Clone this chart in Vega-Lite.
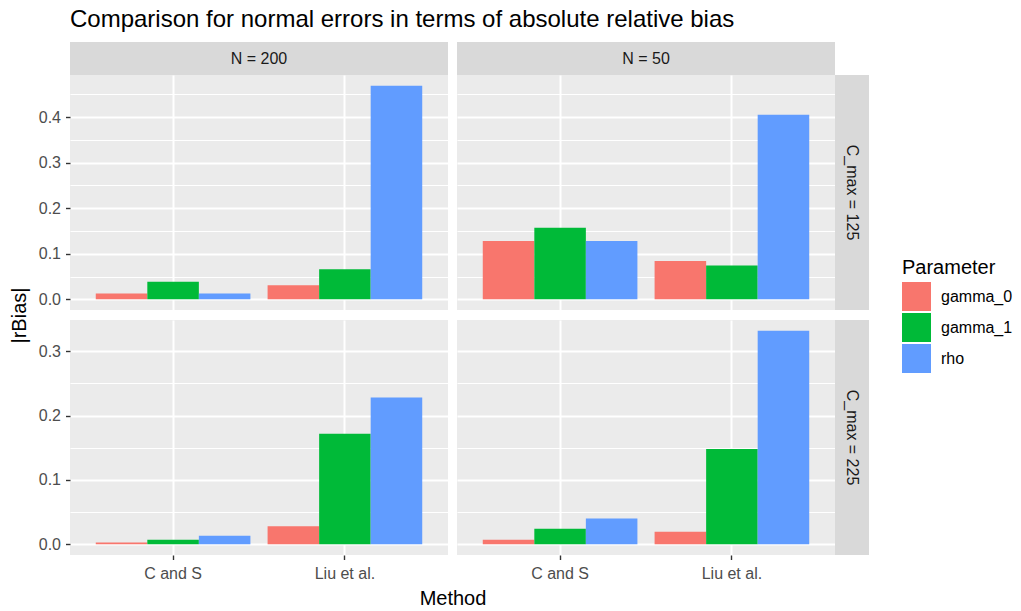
{
  "$schema": "https://vega.github.io/schema/vega-lite/v6.json",
  "padding": {"left": 8, "top": 8, "right": 5, "bottom": 2},
  "background": "white",
  "title": {"text": "Comparison for normal errors in terms of absolute relative bias", "anchor": "start", "frame": "group", "fontSize": 24, "fontWeight": "normal", "color": "#000000", "offset": 10},
  "datasets": {
    "d": [
      {"N": "N = 200", "Cmax": "C_max = 125", "Method": "C and S", "Parameter": "gamma_0", "rBias": 0.013},
      {"N": "N = 200", "Cmax": "C_max = 125", "Method": "C and S", "Parameter": "gamma_1", "rBias": 0.0385},
      {"N": "N = 200", "Cmax": "C_max = 125", "Method": "C and S", "Parameter": "rho", "rBias": 0.013},
      {"N": "N = 200", "Cmax": "C_max = 125", "Method": "Liu et al.", "Parameter": "gamma_0", "rBias": 0.031},
      {"N": "N = 200", "Cmax": "C_max = 125", "Method": "Liu et al.", "Parameter": "gamma_1", "rBias": 0.066},
      {"N": "N = 200", "Cmax": "C_max = 125", "Method": "Liu et al.", "Parameter": "rho", "rBias": 0.469},
      {"N": "N = 50", "Cmax": "C_max = 125", "Method": "C and S", "Parameter": "gamma_0", "rBias": 0.128},
      {"N": "N = 50", "Cmax": "C_max = 125", "Method": "C and S", "Parameter": "gamma_1", "rBias": 0.157},
      {"N": "N = 50", "Cmax": "C_max = 125", "Method": "C and S", "Parameter": "rho", "rBias": 0.128},
      {"N": "N = 50", "Cmax": "C_max = 125", "Method": "Liu et al.", "Parameter": "gamma_0", "rBias": 0.084},
      {"N": "N = 50", "Cmax": "C_max = 125", "Method": "Liu et al.", "Parameter": "gamma_1", "rBias": 0.074},
      {"N": "N = 50", "Cmax": "C_max = 125", "Method": "Liu et al.", "Parameter": "rho", "rBias": 0.405},
      {"N": "N = 200", "Cmax": "C_max = 225", "Method": "C and S", "Parameter": "gamma_0", "rBias": 0.003},
      {"N": "N = 200", "Cmax": "C_max = 225", "Method": "C and S", "Parameter": "gamma_1", "rBias": 0.007},
      {"N": "N = 200", "Cmax": "C_max = 225", "Method": "C and S", "Parameter": "rho", "rBias": 0.0135},
      {"N": "N = 200", "Cmax": "C_max = 225", "Method": "Liu et al.", "Parameter": "gamma_0", "rBias": 0.028},
      {"N": "N = 200", "Cmax": "C_max = 225", "Method": "Liu et al.", "Parameter": "gamma_1", "rBias": 0.172},
      {"N": "N = 200", "Cmax": "C_max = 225", "Method": "Liu et al.", "Parameter": "rho", "rBias": 0.228},
      {"N": "N = 50", "Cmax": "C_max = 225", "Method": "C and S", "Parameter": "gamma_0", "rBias": 0.007},
      {"N": "N = 50", "Cmax": "C_max = 225", "Method": "C and S", "Parameter": "gamma_1", "rBias": 0.024},
      {"N": "N = 50", "Cmax": "C_max = 225", "Method": "C and S", "Parameter": "rho", "rBias": 0.040},
      {"N": "N = 50", "Cmax": "C_max = 225", "Method": "Liu et al.", "Parameter": "gamma_0", "rBias": 0.0195},
      {"N": "N = 50", "Cmax": "C_max = 225", "Method": "Liu et al.", "Parameter": "gamma_1", "rBias": 0.148},
      {"N": "N = 50", "Cmax": "C_max = 225", "Method": "Liu et al.", "Parameter": "rho", "rBias": 0.332}
    ]
  },
  "bounds": "flush",
  "align": "each",
  "columns": 4,
  "spacing": {"row": 0, "column": 0},
  "concat": [
    {"width": 378, "height": 33, "view": {"fill": "#D9D9D9", "stroke": null},
     "data": {"values": [{"label": "N = 200"}]},
     "mark": {"type": "text", "fontSize": 16, "color": "#1A1A1A", "align": "center", "baseline": "middle"},
     "encoding": {"text": {"field": "label", "type": "nominal"}}},
    {"width": 9, "height": 33, "data": {"values": []}, "mark": "point", "encoding": {}},
    {"width": 378, "height": 33, "view": {"fill": "#D9D9D9", "stroke": null},
     "data": {"values": [{"label": "N = 50"}]},
     "mark": {"type": "text", "fontSize": 16, "color": "#1A1A1A", "align": "center", "baseline": "middle"},
     "encoding": {"text": {"field": "label", "type": "nominal"}}},
    {"width": 34, "height": 33, "data": {"values": []}, "mark": "point", "encoding": {}},

    {
      "width": 378, "height": 235,
      "view": {"fill": "#EBEBEB", "stroke": null},
      "data": {"name": "d"},
      "transform": [{"filter": "datum.N === 'N = 200' && datum.Cmax === 'C_max = 125'"}],
      "layer": [
        {"mark": {"type": "bar", "opacity": 0},
         "encoding": {"y": {"field": "rBias", "type": "quantitative", "stack": null,
           "scale": {"domain": [-0.02345, 0.49245], "nice": false},
           "axis": {"orient": "left", "values": [0.05, 0.15, 0.25, 0.35, 0.45], "grid": true, "gridWidth": 1, "labels": false, "ticks": false, "domain": false, "title": null, "zindex": 0}}}},
        {"mark": "bar",
         "encoding": {
           "x": {"field": "Method", "type": "nominal", "scale": {"paddingInner": 0.1, "paddingOuter": 0.15},
             "axis": {"title": null, "labels": false, "ticks": false, "domain": false, "grid": true, "gridWidth": 2, "bandPosition": 0.5, "zindex": 0}},
           "xOffset": {"field": "Parameter", "type": "nominal", "scale": {"paddingInner": 0, "paddingOuter": 0}},
           "y": {"field": "rBias", "type": "quantitative",
             "scale": {"domain": [-0.02345, 0.49245], "nice": false},
             "axis": {"orient": "left", "values": [0, 0.1, 0.2, 0.3, 0.4], "format": ".1f", "grid": true, "gridWidth": 2, "zindex": 0, "title": null}},
           "color": {"field": "Parameter", "type": "nominal",
             "scale": {"domain": ["gamma_0", "gamma_1", "rho"], "range": ["#F8766D", "#00BA38", "#619CFF"]},
             "legend": {"title": "Parameter"}}
         }}
      ],
      "resolve": {"axis": {"y": "independent"}}
    },
    {"width": 9, "height": 235, "data": {"values": []}, "mark": "point", "encoding": {}},
    {
      "width": 378, "height": 235,
      "view": {"fill": "#EBEBEB", "stroke": null},
      "data": {"name": "d"},
      "transform": [{"filter": "datum.N === 'N = 50' && datum.Cmax === 'C_max = 125'"}],
      "layer": [
        {"mark": {"type": "bar", "opacity": 0},
         "encoding": {"y": {"field": "rBias", "type": "quantitative", "stack": null,
           "scale": {"domain": [-0.02345, 0.49245], "nice": false},
           "axis": {"orient": "left", "values": [0.05, 0.15, 0.25, 0.35, 0.45], "grid": true, "gridWidth": 1, "labels": false, "ticks": false, "domain": false, "title": null, "zindex": 0}}}},
        {"mark": "bar",
         "encoding": {
           "x": {"field": "Method", "type": "nominal", "scale": {"paddingInner": 0.1, "paddingOuter": 0.15},
             "axis": {"title": null, "labels": false, "ticks": false, "domain": false, "grid": true, "gridWidth": 2, "bandPosition": 0.5, "zindex": 0}},
           "xOffset": {"field": "Parameter", "type": "nominal", "scale": {"paddingInner": 0, "paddingOuter": 0}},
           "y": {"field": "rBias", "type": "quantitative",
             "scale": {"domain": [-0.02345, 0.49245], "nice": false},
             "axis": {"orient": "left", "values": [0, 0.1, 0.2, 0.3, 0.4], "grid": true, "gridWidth": 2, "labels": false, "ticks": false, "domain": false, "title": null, "zindex": 0}},
           "color": {"field": "Parameter", "type": "nominal",
             "scale": {"domain": ["gamma_0", "gamma_1", "rho"], "range": ["#F8766D", "#00BA38", "#619CFF"]},
             "legend": {"title": "Parameter"}}
         }}
      ],
      "resolve": {"axis": {"y": "independent"}}
    },
    {"width": 34, "height": 235, "view": {"fill": "#D9D9D9", "stroke": null},
     "data": {"values": [{"label": "C_max = 125"}]},
     "mark": {"type": "text", "fontSize": 16, "color": "#1A1A1A", "align": "center", "baseline": "middle", "angle": 90},
     "encoding": {"text": {"field": "label", "type": "nominal"}}},

    {"width": 378, "height": 10, "data": {"name": "d"}, "mark": {"type": "point", "opacity": 0},
     "encoding": {"y": {"field": "rBias", "type": "quantitative",
       "axis": {"title": "|rBias|", "labels": false, "ticks": false, "domain": false, "grid": false, "titlePadding": 41, "titleAngle": 270}}}},
    {"width": 9, "height": 10, "data": {"values": []}, "mark": "point", "encoding": {}},
    {"width": 378, "height": 10, "data": {"values": []}, "mark": "point", "encoding": {}},
    {"width": 34, "height": 10, "data": {"values": []}, "mark": "point", "encoding": {}},

    {
      "width": 378, "height": 235,
      "view": {"fill": "#EBEBEB", "stroke": null},
      "data": {"name": "d"},
      "transform": [{"filter": "datum.N === 'N = 200' && datum.Cmax === 'C_max = 225'"}],
      "layer": [
        {"mark": {"type": "bar", "opacity": 0},
         "encoding": {"y": {"field": "rBias", "type": "quantitative", "stack": null,
           "scale": {"domain": [-0.0166, 0.3486], "nice": false},
           "axis": {"orient": "left", "values": [0.05, 0.15, 0.25], "grid": true, "gridWidth": 1, "labels": false, "ticks": false, "domain": false, "title": null, "zindex": 0}}}},
        {"mark": "bar",
         "encoding": {
           "x": {"field": "Method", "type": "nominal", "scale": {"paddingInner": 0.1, "paddingOuter": 0.15},
             "axis": {"labelAngle": 0, "labelPadding": 6, "grid": true, "gridWidth": 2, "bandPosition": 0.5, "zindex": 0, "domain": false, "title": null}},
           "xOffset": {"field": "Parameter", "type": "nominal", "scale": {"paddingInner": 0, "paddingOuter": 0}},
           "y": {"field": "rBias", "type": "quantitative",
             "scale": {"domain": [-0.0166, 0.3486], "nice": false},
             "axis": {"orient": "left", "values": [0, 0.1, 0.2, 0.3], "format": ".1f", "grid": true, "gridWidth": 2, "zindex": 0, "title": null}},
           "color": {"field": "Parameter", "type": "nominal",
             "scale": {"domain": ["gamma_0", "gamma_1", "rho"], "range": ["#F8766D", "#00BA38", "#619CFF"]},
             "legend": {"title": "Parameter"}}
         }}
      ],
      "resolve": {"axis": {"y": "independent"}}
    },
    {"width": 9, "height": 235, "data": {"name": "d"}, "mark": {"type": "point", "opacity": 0},
     "encoding": {"x": {"field": "Method", "type": "nominal",
       "axis": {"title": "Method", "labels": false, "ticks": false, "domain": false, "grid": false, "titlePadding": 33}}}},
    {
      "width": 378, "height": 235,
      "view": {"fill": "#EBEBEB", "stroke": null},
      "data": {"name": "d"},
      "transform": [{"filter": "datum.N === 'N = 50' && datum.Cmax === 'C_max = 225'"}],
      "layer": [
        {"mark": {"type": "bar", "opacity": 0},
         "encoding": {"y": {"field": "rBias", "type": "quantitative", "stack": null,
           "scale": {"domain": [-0.0166, 0.3486], "nice": false},
           "axis": {"orient": "left", "values": [0.05, 0.15, 0.25], "grid": true, "gridWidth": 1, "labels": false, "ticks": false, "domain": false, "title": null, "zindex": 0}}}},
        {"mark": "bar",
         "encoding": {
           "x": {"field": "Method", "type": "nominal", "scale": {"paddingInner": 0.1, "paddingOuter": 0.15},
             "axis": {"labelAngle": 0, "labelPadding": 6, "grid": true, "gridWidth": 2, "bandPosition": 0.5, "zindex": 0, "domain": false, "title": null}},
           "xOffset": {"field": "Parameter", "type": "nominal", "scale": {"paddingInner": 0, "paddingOuter": 0}},
           "y": {"field": "rBias", "type": "quantitative",
             "scale": {"domain": [-0.0166, 0.3486], "nice": false},
             "axis": {"orient": "left", "values": [0, 0.1, 0.2, 0.3], "grid": true, "gridWidth": 2, "labels": false, "ticks": false, "domain": false, "title": null, "zindex": 0}},
           "color": {"field": "Parameter", "type": "nominal",
             "scale": {"domain": ["gamma_0", "gamma_1", "rho"], "range": ["#F8766D", "#00BA38", "#619CFF"]},
             "legend": {"title": "Parameter"}}
         }}
      ],
      "resolve": {"axis": {"y": "independent"}}
    },
    {"width": 34, "height": 235, "view": {"fill": "#D9D9D9", "stroke": null},
     "data": {"values": [{"label": "C_max = 225"}]},
     "mark": {"type": "text", "fontSize": 16, "color": "#1A1A1A", "align": "center", "baseline": "middle", "angle": 90},
     "encoding": {"text": {"field": "label", "type": "nominal"}}}
  ],
  "config": {
    "font": "Liberation Sans",
    "view": {"stroke": null},
    "axis": {
      "gridColor": "#FFFFFF", "gridOpacity": 1, "domain": false,
      "tickColor": "#333333", "tickSize": 4.5, "tickWidth": 1.4,
      "labelFont": "Liberation Sans", "labelFontSize": 16, "labelColor": "#4D4D4D", "labelPadding": 5,
      "titleFont": "Liberation Sans", "titleFontSize": 20, "titleFontWeight": "normal", "titleColor": "#000000"
    },
    "legend": {
      "orient": "none", "legendX": 832, "legendY": 216,
      "titleFont": "Liberation Sans", "titleFontSize": 20, "titleFontWeight": "normal", "titleColor": "#000000", "titlePadding": 4,
      "labelFont": "Liberation Sans", "labelFontSize": 16, "labelColor": "#000000", "labelOffset": 10,
      "symbolType": "square", "symbolSize": 841, "symbolStrokeWidth": 0, "symbolOpacity": 1, "rowPadding": 2, "padding": 0
    }
  }
}
